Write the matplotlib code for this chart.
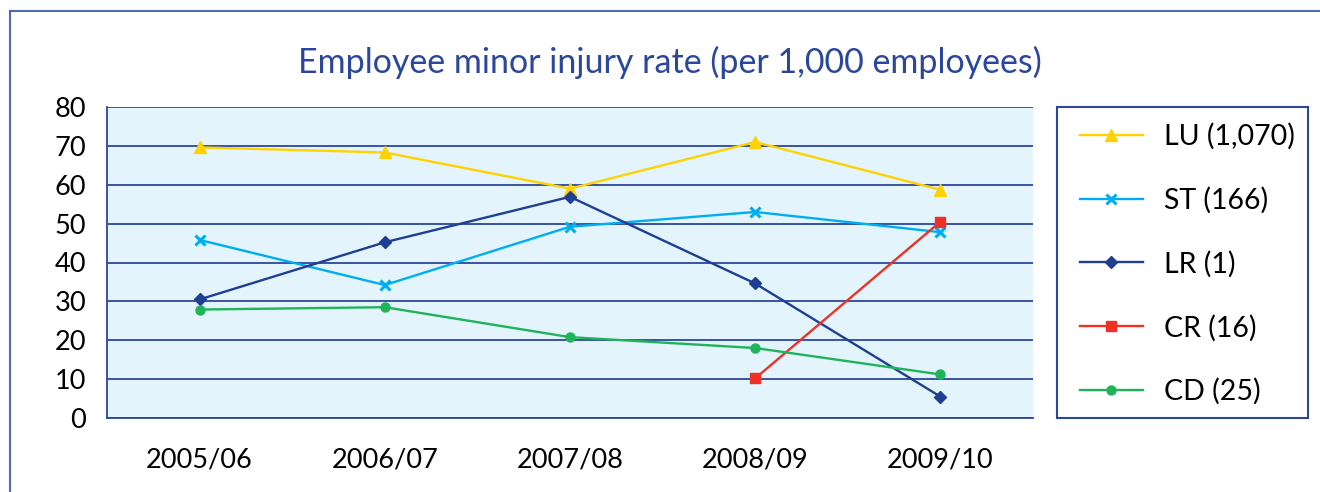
import matplotlib.pyplot as plt
from matplotlib.patches import Rectangle
import numpy as np

years = ["2005/06", "2006/07", "2007/08", "2008/09", "2009/10"]
lu = [69.6, 68.3, 59.0, 71.0, 58.7]
st = [45.8, 34.2, 49.2, 53.0, 47.8]
lr = [30.5, 45.2, 56.9, 34.6, 5.5]
cr = [np.nan, np.nan, np.nan, 10.2, 50.5]
cd = [27.9, 28.5, 20.8, 18.0, 11.2]

series = [
    ("LU (1,070)", lu, "#FFD200", "^", 8),
    ("ST (166)", st, "#00AEEF", "x", 7),
    ("LR (1)", lr, "#1F3F93", "D", 6.5),
    ("CR (16)", cr, "#EE3124", "s", 6.5),
    ("CD (25)", cd, "#20B35A", "o", 6.5),
]

navy = "#2B479B"
plt.rcParams['font.family'] = ['Lato', 'DejaVu Sans']

fig = plt.figure(figsize=(13.2, 4.92), dpi=100)
W, H = 1320, 492

# outer frame
fig.patches.append(Rectangle((10 / W, 0 - 0.05), 1.2, 1 - 11 / H + 0.05,
                             transform=fig.transFigure, fill=False,
                             edgecolor="#4A6CB5", lw=1.5))

ax = fig.add_axes([107 / W, 1 - 418 / H, (1033 - 107) / W, (418 - 107) / H])
ax.set_facecolor("#E3F4FC")
x = np.arange(len(years))
handles = []
for name, vals, col, mk, ms in series:
    mew = 2.2 if mk == "x" else 1
    h, = ax.plot(x, vals, color=col, lw=1.7, marker=mk, markersize=ms,
                 markeredgewidth=mew, label=name, zorder=3)
    handles.append(h)

ax.set_xlim(-0.5, len(years) - 0.5)
ax.set_ylim(0, 80)
ax.set_yticks(range(0, 81, 10))
ax.set_xticks(x)
ax.set_xticklabels(years)
ax.yaxis.grid(True, color=navy, lw=1.3)
ax.set_axisbelow(True)
ax.tick_params(axis="both", length=0, labelsize=19.5, colors="black")
ax.tick_params(axis="y", pad=15)
ax.tick_params(axis="x", pad=21)
for s in ["top", "right"]:
    ax.spines[s].set_visible(False)
for s in ["left", "bottom"]:
    ax.spines[s].set_color(navy)
    ax.spines[s].set_linewidth(1.3)

fig.text(670 / W, 1 - 62 / H, "Employee minor injury rate (per 1,000 employees)",
         ha="center", va="center", fontsize=24.5, color=navy)

# legend box
fig.patches.append(Rectangle((1057 / W, 1 - 418 / H), (1308 - 1057) / W, (418 - 107) / H,
                             transform=fig.transFigure, fill=False,
                             edgecolor=navy, lw=1.5))
fig.legend(handles=handles, loc="center left",
           bbox_to_anchor=(1080 / W, 1 - 264 / H), frameon=False,
           fontsize=20.5, handlelength=2.2, labelspacing=1.3, handletextpad=0.75,
           borderaxespad=0, borderpad=0)

fig.savefig("out.png", dpi=100)
